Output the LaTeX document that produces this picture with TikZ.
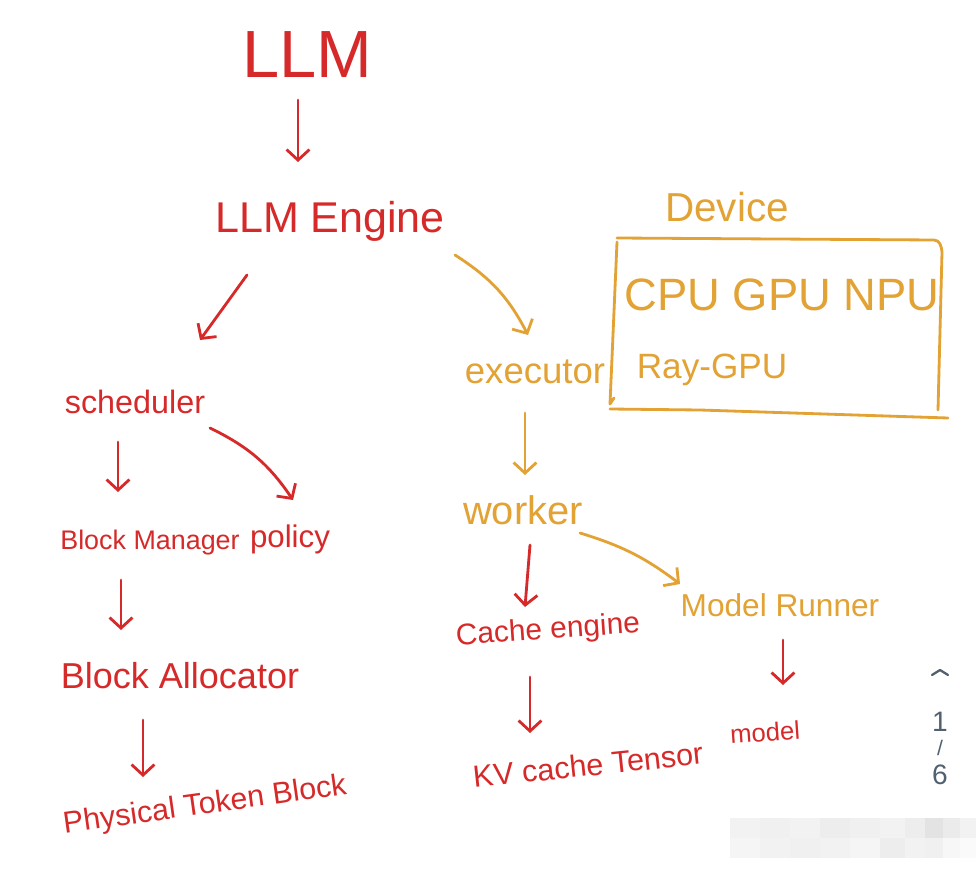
\documentclass[tikz,border=0pt]{standalone}
\usepackage{fontspec}
\setmainfont{Liberation Sans}
\usetikzlibrary{arrows.meta,calc}
\definecolor{hred}{RGB}{214,42,42}
\definecolor{horange}{RGB}{226,162,52}
\definecolor{pgray}{RGB}{80,96,112}
\newcommand{\fsz}[1]{\fontsize{#1}{#1}\selectfont}
\begin{document}
\begin{tikzpicture}[x=0.02cm,y=-0.02cm,
  lbl/.style={inner sep=0pt, outer sep=0pt},
  rlbl/.style={lbl,text=hred},
  olbl/.style={lbl,text=horange},
  ar/.style={line width=1.6pt, line cap=round, line join=round,
    -{Straight Barb[length=6pt,width=13pt,line width=1.6pt]}},
  rar/.style={ar,draw=hred},
  oar/.style={ar,draw=horange},
  hand/.style={line width=1.6pt, line cap=round, line join=round},
  pg/.style={lbl,text=pgray,font=\fsz{16}},
]
\useasboundingbox[fill=white] (0,0) rectangle (976,878);

% ---- red (left) labels
\node[rlbl,font=\fsz{38}] (llm) at (307,55) {LLM};
\node[rlbl,font=\fsz{24.5}] (engine) at (330,221) {LLM Engine};
\node[rlbl,font=\fsz{18.4}] (sched) at (135,402) {scheduler};
\node[rlbl,font=\fsz{15.3}] (bm) at (150,543) {Block Manager};
\node[rlbl,font=\fsz{17.8}] (policy) at (290,539) {policy};
\node[rlbl,font=\fsz{20.5}] (alloc) at (180,676) {Block Allocator};
\node[rlbl,font=\fsz{17.3},rotate=8] (phys) at (205,806) {Physical Token Block};

% ---- right side
\node[olbl,font=\fsz{20.8}] (exec) at (535,372) {executor};
\node[olbl,font=\fsz{23}] (device) at (727,207) {Device};
\node[olbl,font=\fsz{25.8}] (cgn) at (782,295) {CPU GPU NPU};
\node[olbl,font=\fsz{20}] (ray) at (712,370) {Ray-GPU};
\node[olbl,font=\fsz{22.7}] (worker) at (523,510) {worker};
\node[rlbl,font=\fsz{17},rotate=4] (cache) at (548,631) {Cache engine};
\node[olbl,font=\fsz{18}] (runner) at (780,605) {Model Runner};
\node[rlbl,font=\fsz{14.6},rotate=4] (model) at (765,732) {model};
\node[rlbl,font=\fsz{17.4},rotate=6] (kv) at (588,765) {KV cache Tensor};

% ---- device box (hand drawn)
\draw[hand,horange] (617,238) -- (934,240) to[out=0,in=95] (942,252) -- (938,410);
\draw[hand,horange] (617,242) -- (610,404) -- (614,398);
\draw[hand,horange] (610,409) -- (700,410) -- (948,418);

% ---- connectors
\draw[rar] ($(llm.center)+(-9,45)$) -- ($(engine.center)+(-32,-59)$);
\draw[rar] ($(engine.center)+(-83,54)$) -- ($(sched.center)+(65,-62)$);
\draw[oar] ($(engine.center)+(125,34)$) to[bend left=15] ($(exec.center)+(-7,-37)$);
\draw[rar] ($(sched.center)+(-17,40)$) -- ($(bm.center)+(-32,-51)$);
\draw[rar] ($(sched.center)+(75,26)$) to[bend left=15] ($(policy.center)+(3,-39)$);
\draw[rar] ($(bm.center)+(-29,37)$) -- ($(alloc.center)+(-59,-46)$);
\draw[rar] ($(alloc.center)+(-37,44)$) -- ($(phys.center)+(-62,-29)$);
\draw[oar] ($(exec.center)+(-10,41)$) -- ($(worker.center)+(2,-35)$);
\draw[rar] ($(worker.center)+(7,35)$) -- ($(cache.center)+(-23,-24)$);
\draw[oar] ($(worker.center)+(57,23)$) to[bend left=10] ($(runner.center)+(-100,-21)$);
\draw[rar] ($(cache.center)+(-18,46)$) -- ($(kv.center)+(-58,-32)$);
\draw[rar] ($(runner.center)+(3,35)$) -- ($(model.center)+(18,-47)$);

% ---- page indicator
\coordinate (chev) at (940,670);
\draw[pgray,line width=1.3pt,line cap=round,line join=round]
  ($(chev)+(-8,5)$) -- (chev) -- ($(chev)+(8,5)$);
\node[pg] (pone) at (940,722) {1};
\node[pg,font=\fsz{12}] (pslash) at (940,748) {/};
\node[pg] (psix) at (940,775) {6};

% ---- blurred strip
\foreach \x/\a/\b in {730/95/96,760/94/95,790/95/94,820/93/95,850/94/96,880/95/93,905/93/95,925/89/94,943/92/97,960/95/98}{
  \fill[black!\the\numexpr100-\a\relax!white] (\x,818) rectangle ++(30,20);
  \fill[black!\the\numexpr100-\b\relax!white] (\x,838) rectangle ++(30,20);
}
\end{tikzpicture}
\end{document}
